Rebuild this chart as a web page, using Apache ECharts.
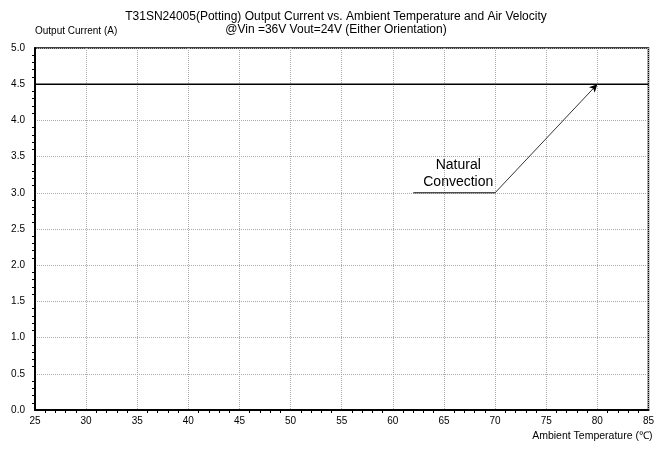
<!DOCTYPE html>
<html>
<head>
<meta charset="utf-8">
<script src="https://cdn.jsdelivr.net/npm/echarts@6/dist/echarts.min.js"></script>
<style>
  html, body { margin: 0; padding: 0; background: #fff; }
  #chart { width: 657px; height: 449px; }
</style>
</head>
<body>
<div id="chart"></div>
<script>
// derating curve data
const temps = [25, 85];
const currents = [4.5, 4.5];
// annotation: leader line + arrow
const leader = [[62, 3.0], [70, 3.0]];
const arrowFrom = [70, 3.0];
const arrowTo = [80, 4.5];
const labelPos = [66.4, 3.27];
const labelText = 'Natural\nConvection';

const font = '"Liberation Sans", Arial, sans-serif';

let myChart = echarts.init(document.getElementById('chart'));
let option = {
  animation: false,
  backgroundColor: '#fff',
  title: {
    text: 'T31SN24005(Potting) Output Current vs. Ambient Temperature and Air Velocity\n@Vin =36V Vout=24V (Either Orientation)',
    left: 331,
    textAlign: 'center',
    top: 5,
    textStyle: { fontFamily: font, fontSize: 12, fontWeight: 'normal', color: '#000', lineHeight: 13 }
  },
  grid: {
    left: 35, right: 7, top: 48, bottom: 39,
    show: true, borderColor: '#000', borderWidth: 1.5
  },
  xAxis: {
    type: 'value', min: 25, max: 85, interval: 5,
    name: 'Ambient Temperature (℃)',
    nameLocation: 'end',
    nameGap: 4,
    nameTextStyle: { fontFamily: font, fontSize: 10.5, color: '#000', align: 'right', verticalAlign: 'top', padding: [21, 0, 0, 0] },
    axisLine: { lineStyle: { color: '#000', width: 2 } },
    axisTick: { show: false },
    minorTick: { show: true, inside: true, splitNumber: 5, length: 3, lineStyle: { color: '#000', width: 1 } },
    axisLabel: { fontFamily: font, fontSize: 10, color: '#000', margin: 6 },
    splitLine: { lineStyle: { color: '#aaa', type: [1, 1], width: 1 } }
  },
  yAxis: {
    type: 'value', min: 0, max: 5, interval: 0.5,
    name: 'Output Current (A)',
    nameLocation: 'end',
    nameGap: 0,
    nameTextStyle: { fontFamily: font, fontSize: 10, color: '#000', align: 'left', padding: [0, 0, 12, 0] },
    axisLine: { show: true, lineStyle: { color: '#000', width: 2 } },
    axisTick: { show: false },
    minorTick: { show: true, inside: true, splitNumber: 5, length: 3, lineStyle: { color: '#000', width: 1 } },
    axisLabel: { fontFamily: font, fontSize: 10, color: '#000', margin: 10, formatter: v => v.toFixed(1) },
    splitLine: { lineStyle: { color: '#aaa', type: [1, 1], width: 1 } }
  },
  series: [
    {
      type: 'line',
      data: temps.map((t, i) => [t, currents[i]]),
      symbol: 'none',
      lineStyle: { color: '#000', width: 1.5 },
      z: 5
    },
    {
      type: 'line',
      data: leader,
      symbol: 'none',
      lineStyle: { color: '#000', width: 1 },
      markLine: {
        silent: true,
        symbol: ['none', 'arrow'],
        symbolSize: [6, 8],
        label: { show: false },
        lineStyle: { color: '#000', width: 0.8, type: 'solid' },
        data: [[{ coord: arrowFrom }, { coord: arrowTo }]]
      }
    },
    {
      type: 'scatter',
      data: [labelPos],
      symbolSize: 0,
      silent: true,
      itemStyle: { color: '#000', opacity: 1 },
      label: {
        show: true, position: 'inside', formatter: labelText,
        fontFamily: font, fontSize: 14, color: '#000', textBorderWidth: 0, opacity: 1,
        lineHeight: 17, align: 'center'
      }
    }
  ]
};
myChart.setOption(option);
</script>
</body>
</html>
